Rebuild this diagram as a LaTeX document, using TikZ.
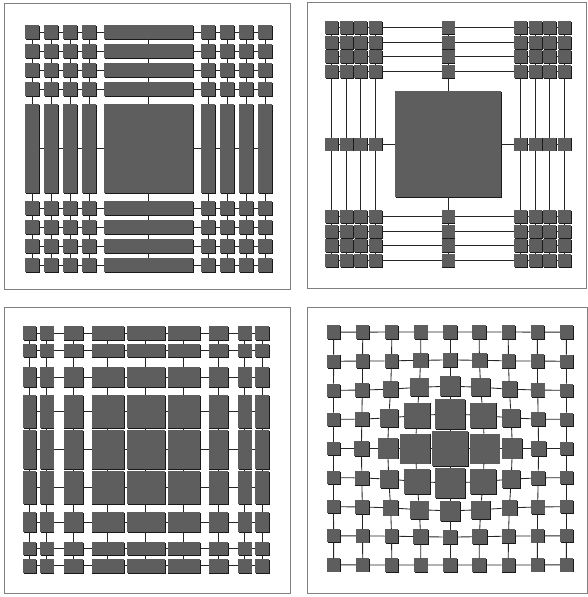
\documentclass[tikz,border=0pt]{standalone}
\usetikzlibrary{shadows}
\begin{document}
\begin{tikzpicture}[
  x=1pt, y=-1pt,
  box/.style={
    fill=black!63, inner sep=0pt, outer sep=0pt,
    drop shadow={shadow xshift=0.9pt, shadow yshift=-0.9pt,
      fill=black!90, opacity=1}
  },
  link/.style={draw=black!85, line width=0.85pt},
  frame/.style={draw=black!50, line width=0.9pt},
]
\useasboundingbox (0,0) rectangle (588,597);

% Panel frames
\draw[frame] (4.7,3.3) rectangle (290.3,289);
\draw[frame] (307.5,2) rectangle (586.5,288.5);
\draw[frame] (4.7,307.3) rectangle (290.7,593.7);
\draw[frame] (307.5,307.3) rectangle (587,593.7);

% Top left: bars along the middle row and column
\def\posA{{32,51,70,89,148.5,208,227,246,265}}
\def\sizeA{{14,14,14,14,89,14,14,14,14}}
\foreach \i in {1,...,9}{
  \foreach \j in {1,...,9}{
    \pgfmathsetmacro\posx{\posA[\i-1]}
    \pgfmathsetmacro\posy{\posA[\j-1]}
    \pgfmathsetmacro\bw{\sizeA[\i-1]}
    \pgfmathsetmacro\bh{\sizeA[\j-1]}
    \node[box, minimum width=\bw pt, minimum height=\bh pt] (a-\i-\j) at (\posx,\posy) {};
  }
}

% Top right: one big centre node, clustered corners
\def\offB{{-116.5,-101.8,-87.2,-72.5,0,72.5,87.2,101.8,116.5}}
\foreach \i in {1,...,9}{
  \foreach \j in {1,...,9}{
    \pgfmathsetmacro\posx{448+\offB[\i-1]}
    \pgfmathsetmacro\posy{144+\offB[\j-1]}
    \pgfmathsetmacro\bw{(\i==5 && \j==5) ? 106 : 13}
    \node[box, minimum width=\bw pt, minimum height=\bw pt] (b-\i-\j) at (\posx,\posy) {};
  }
}

% Bottom left: sizes grow towards the middle
\def\offC{{-116.4,-99,-72.5,-38,0,38,72.5,99,116.4}}
\def\sizeC{{13.5,13.5,19.5,32.5,38.3,32.5,19.5,13.5,13.5}}
\foreach \i in {1,...,9}{
  \foreach \j in {1,...,9}{
    \pgfmathsetmacro\posx{145.8+\offC[\i-1]}
    \pgfmathsetmacro\posy{449.5+\offC[\j-1]}
    \pgfmathsetmacro\bw{\sizeC[\i-1]}
    \pgfmathsetmacro\bh{\sizeC[\j-1]}
    \node[box, minimum width=\bw pt, minimum height=\bh pt] (c-\i-\j) at (\posx,\posy) {};
  }
}

% Bottom right: fisheye around the centre node
\foreach \i in {1,...,9}{
  \foreach \j in {1,...,9}{
    \pgfmathsetmacro\dd{(\i-5)^2+(\j-5)^2}
    \pgfmathsetmacro\grow{1+0.259*exp(-\dd/3.11)}
    \pgfmathsetmacro\posx{450+29.1*(\i-5)*\grow}
    \pgfmathsetmacro\posy{448.5+29.1*(\j-5)*\grow}
    \pgfmathsetmacro\bw{13.3+22.5*exp(-\dd/3.35)}
    \node[box, minimum width=\bw pt, minimum height=\bw pt] (d-\i-\j) at (\posx,\posy) {};
  }
}

% Grid links in all four panels
\foreach \g in {a,b,c,d}{
  \foreach \i in {1,...,9}{
    \foreach \j in {1,...,8}{
      \pgfmathtruncatemacro\k{\j+1}
      \draw[link] (\g-\i-\j) -- (\g-\i-\k);
      \draw[link] (\g-\j-\i) -- (\g-\k-\i);
    }
  }
}

\end{tikzpicture}
\end{document}
